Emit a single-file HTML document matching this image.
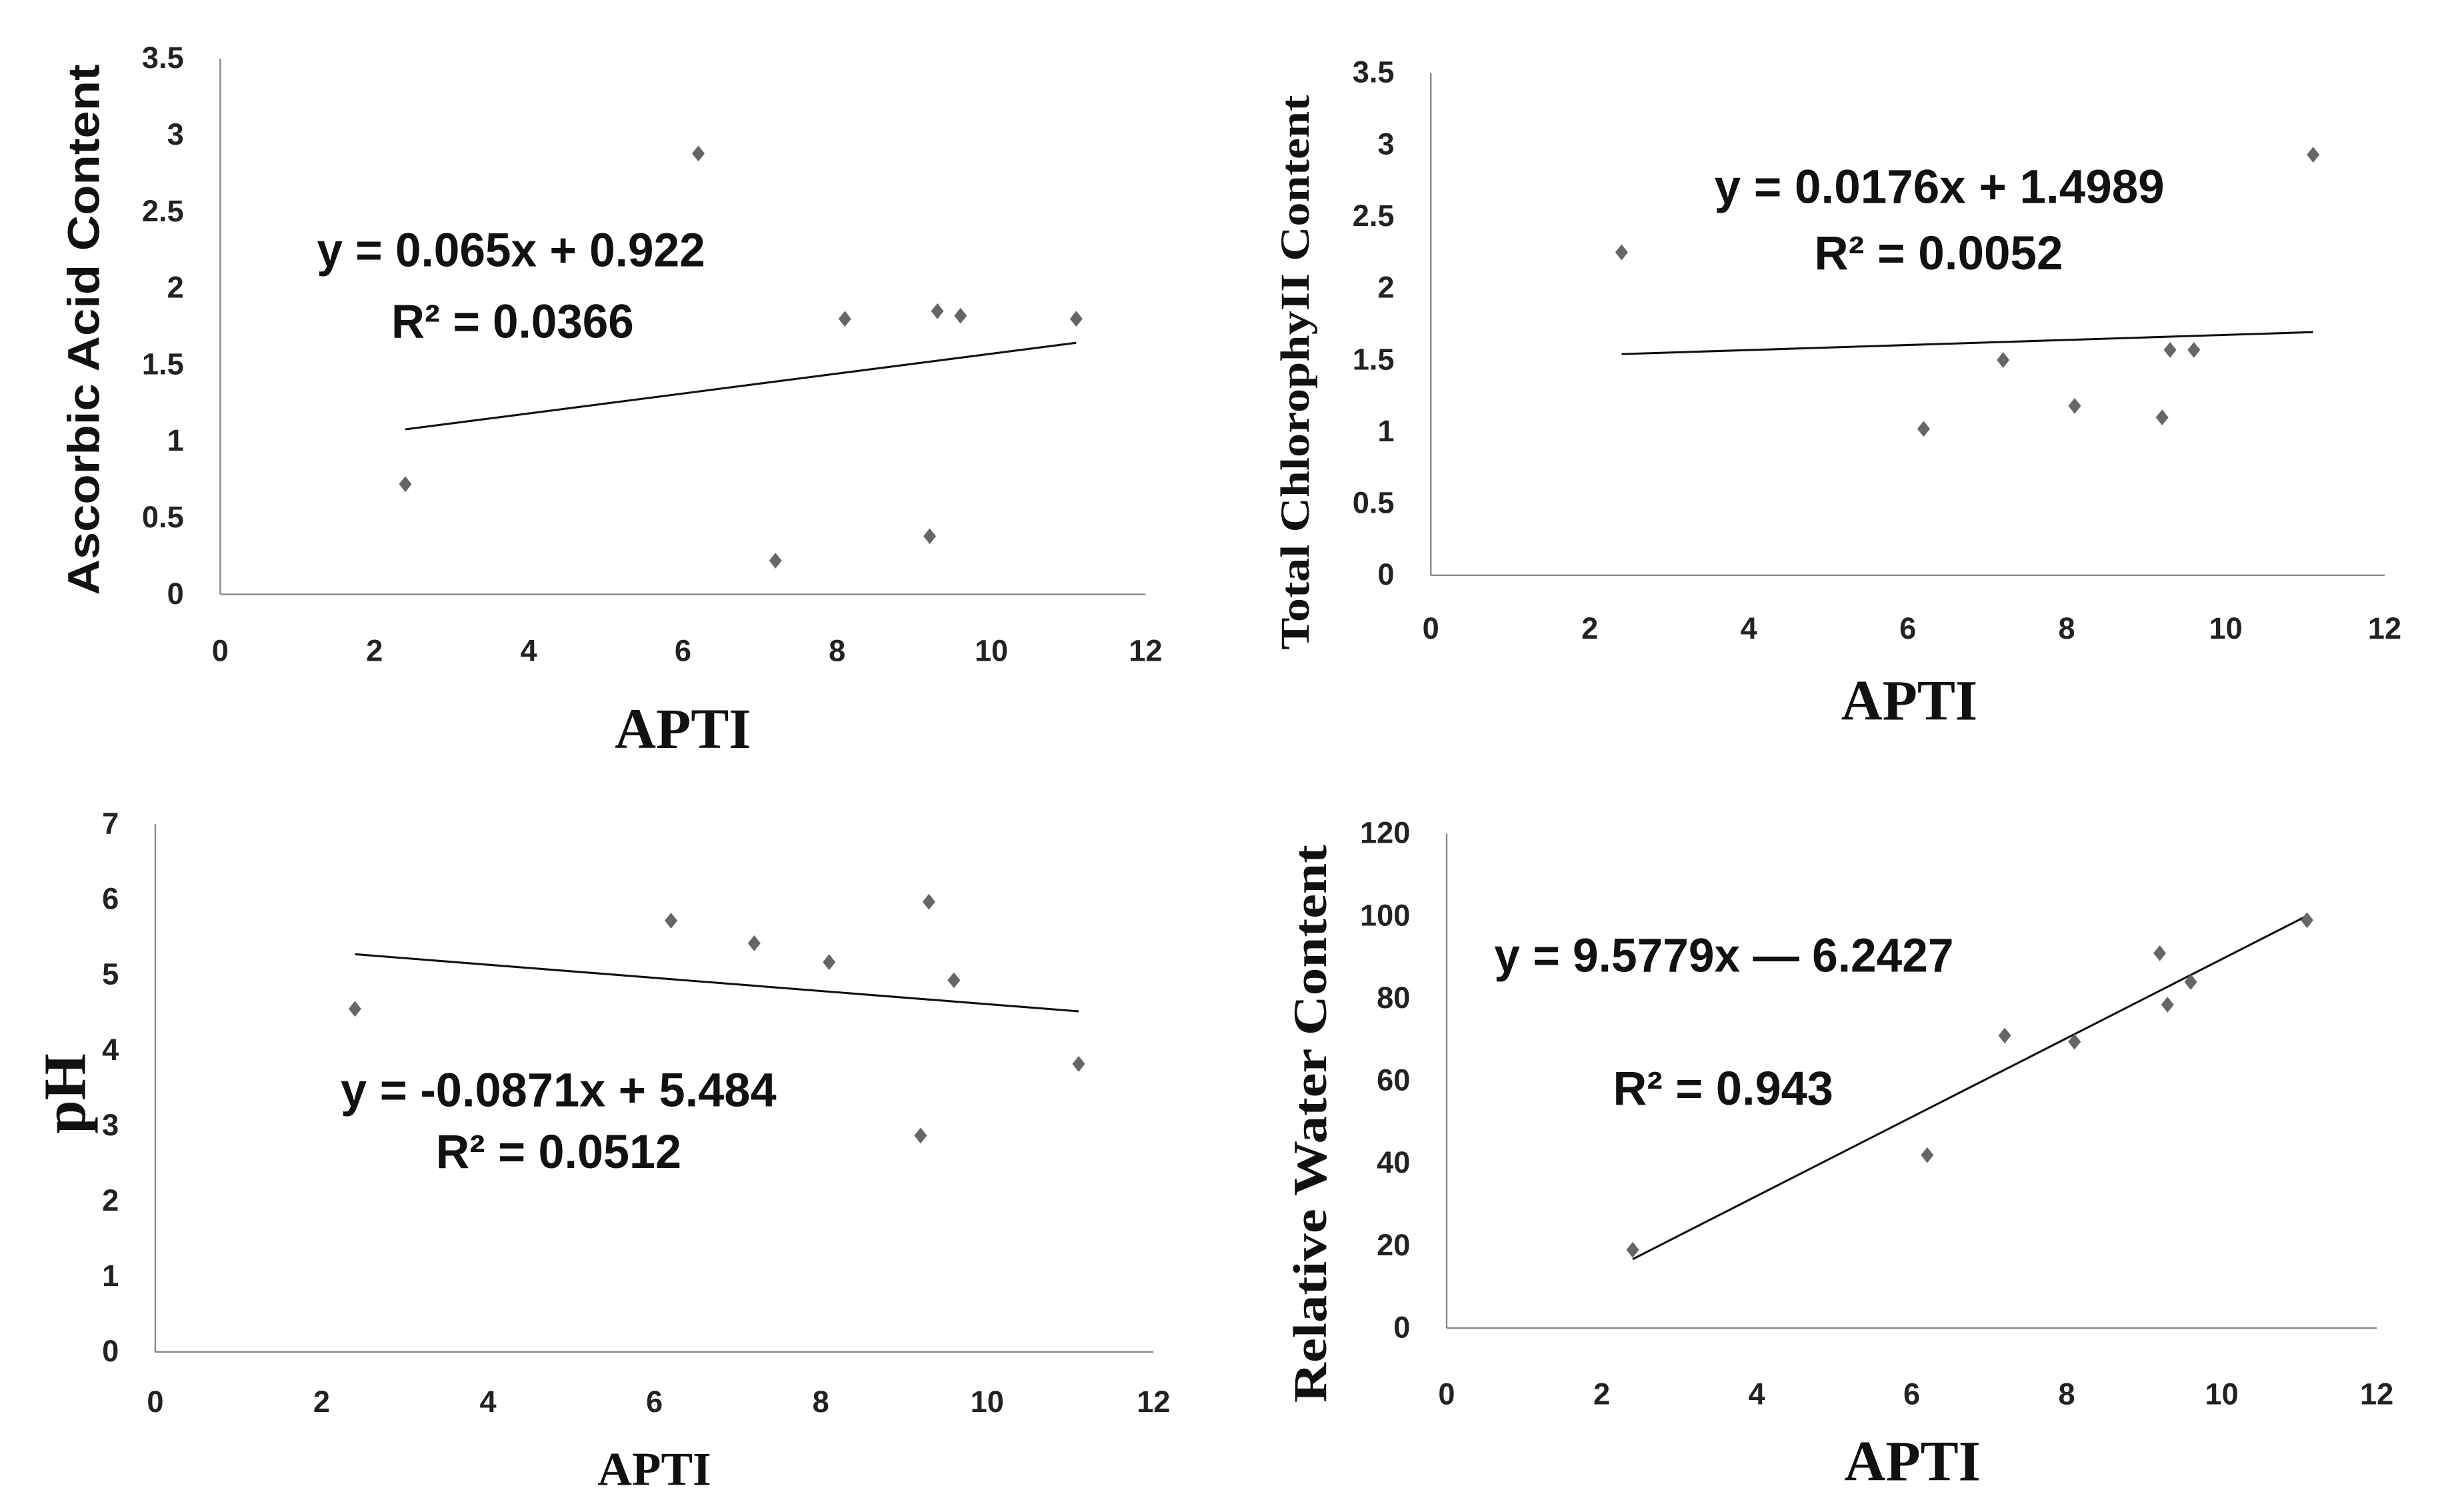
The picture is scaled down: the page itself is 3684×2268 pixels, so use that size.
<!DOCTYPE html>
<html><head><meta charset="utf-8"><style>
html,body{margin:0;padding:0;background:#fff;}
svg{display:block;}
.tk{font-family:"Liberation Sans Narrow","Liberation Sans",sans-serif;font-weight:bold;font-size:19px;fill:#222;}
.eq{font-family:"Liberation Sans Narrow","Liberation Sans",sans-serif;font-weight:bold;font-size:30px;fill:#111;}
.tt{font-family:"Liberation Serif",serif;font-weight:bold;fill:#111;}
</style></head><body>
<svg id="chart" width="3684" height="2268" viewBox="0 0 1550 954" preserveAspectRatio="none" xmlns="http://www.w3.org/2000/svg"></svg>
<script>
const apti = [2.4, 6.2, 7.2, 8.1, 9.2, 9.3, 9.6, 11.1];
const ascorbic = [0.72, 2.88, 0.22, 1.8, 0.38, 1.85, 1.82, 1.8];
const chlorophyll = [2.25, 1.02, 1.5, 1.18, 1.1, 1.57, 1.57, 2.93];
const ph = [4.55, 5.72, 5.42, 5.17, 2.87, 5.97, 4.93, 3.82];
const rwc = [19, 42, 71, 69.5, 91, 78.5, 84, 99];
const xTicks = [0, 2, 4, 6, 8, 10, 12];
const ascTicks = [0, 0.5, 1, 1.5, 2, 2.5, 3, 3.5];
const chlTicks = [0, 0.5, 1, 1.5, 2, 2.5, 3, 3.5];
const phTicks = [0, 1, 2, 3, 4, 5, 6, 7];
const rwcTicks = [0, 20, 40, 60, 80, 100, 120];
const fits = [[0.065, 0.922], [0.0176, 1.4989], [-0.0871, 5.484], [9.5779, -6.2427]];

const NS = "http://www.w3.org/2000/svg";
const svg = document.getElementById('chart');
function mk(tag, attrs, parent, txt) {
  const e = document.createElementNS(NS, tag);
  for (const k in attrs) e.setAttribute(k, attrs[k]);
  if (txt !== undefined) e.textContent = txt;
  (parent || svg).appendChild(e);
  return e;
}
const panels = [
  {name:'ascorbic', ys:ascorbic, yt:ascTicks, ymax:3.5, x0:139, x1:723, y0:375, y1:37, xlabY:417, ylabX:116,
   title:'Ascorbic Acid Content', tx:55, ty:208, tfont:'Liberation Sans', tsize:28, tlen:335,
   apx:431, apy:472, apsize:36, eq:['y = 0.065x + 0.922','R² = 0.0366'], ex:[200,247], ey:[168,213], elen:[245,153], fit:fits[0]},
  {name:'chlorophyll', ys:chlorophyll, yt:chlTicks, ymax:3.5, x0:903, x1:1505, y0:363, y1:46, xlabY:403, ylabX:880,
   title:'Total ChlorophyII Content', tx:820, ty:235, tfont:'Liberation Serif', tsize:26, tlen:350,
   apx:1205, apy:454, apsize:36, eq:['y = 0.0176x + 1.4989','R² = 0.0052'], ex:[1082,1145], ey:[128,170], elen:[284,157], fit:fits[1]},
  {name:'ph', ys:ph, yt:phTicks, ymax:7, x0:98, x1:728, y0:853, y1:520, xlabY:891, ylabX:75,
   title:'pH', tx:45, ty:690, tfont:'Liberation Serif', tsize:38, tlen:0,
   apx:413, apy:937, apsize:30, eq:['y = -0.0871x + 5.484','R² = 0.0512'], ex:[215,275], ey:[698,737], elen:[275,155], fit:fits[2]},
  {name:'rwc', ys:rwc, yt:rwcTicks, ymax:120, x0:913, x1:1500, y0:838, y1:526, xlabY:886, ylabX:890,
   title:'Relative Water Content', tx:830, ty:709, tfont:'Liberation Serif', tsize:30, tlen:352,
   apx:1207, apy:934, apsize:36, eq:['y = 9.5779x \u2014 6.2427','R² = 0.943'], ex:[943,1018], ey:[613,697], elen:[290,139], fit:fits[3]}
];
panels.forEach(p => {
  const g = mk('g', {});
  
  
  const sx = v => p.x0 + (v / 12) * (p.x1 - p.x0);
  const sy = v => p.y0 - (v / p.ymax) * (p.y0 - p.y1);
  const ya = mk('line', {x1:p.x0, y1:p.y1, x2:p.x0, y2:p.y0, stroke:'#888', 'stroke-width':1}, g);
  
  
  const xa = mk('line', {x1:p.x0, y1:p.y0, x2:p.x1, y2:p.y0, stroke:'#888', 'stroke-width':1}, g);
  
  
  p.yt.forEach(t => {
    const e = mk('text', {x:p.ylabX, y:sy(t) + 6, 'text-anchor':'end', class:'tk'}, g, String(t));
    
    
  });
  xTicks.forEach(t => {
    const e = mk('text', {x:sx(t), y:p.xlabY, 'text-anchor':'middle', class:'tk'}, g, String(t));
    
    
  });
  const xs = Math.min(...apti), xe = Math.max(...apti);
  const tl = mk('line', {x1:sx(xs), y1:sy(p.fit[0]*xs + p.fit[1]), x2:sx(xe), y2:sy(p.fit[0]*xe + p.fit[1]), stroke:'#111', 'stroke-width':1.3}, g);
  
  
  apti.forEach((x, i) => {
    const cx = sx(x), cy = sy(p.ys[i]), r = 5;
    const d = mk('polygon', {points:`${cx},${cy-r} ${cx+r*0.8},${cy} ${cx},${cy+r} ${cx-r*0.8},${cy}`, fill:'#666'}, g);
    
    
  });
  p.eq.forEach((s, i) => {
    const e = mk('text', {x:p.ex[i], y:p.ey[i], class:'eq', textLength:p.elen[i], lengthAdjust:'spacingAndGlyphs'}, g, s);
    
    
  });
  const ta = {x:p.tx, y:p.ty, 'text-anchor':'middle', transform:`rotate(-90 ${p.tx} ${p.ty})`, 'font-family':`"${p.tfont}", sans-serif`, 'font-weight':'bold', 'font-size':p.tsize, fill:'#111', 'dominant-baseline':'middle'};
  if (p.tlen) { ta.textLength = p.tlen; ta.lengthAdjust = 'spacingAndGlyphs'; }
  const yt = mk('text', ta, g, p.title);
  
  
  const xt = mk('text', {x:p.apx, y:p.apy, 'text-anchor':'middle', class:'tt', 'font-size':p.apsize}, g, 'APTI');
  
  
});
</script>
</body></html>
